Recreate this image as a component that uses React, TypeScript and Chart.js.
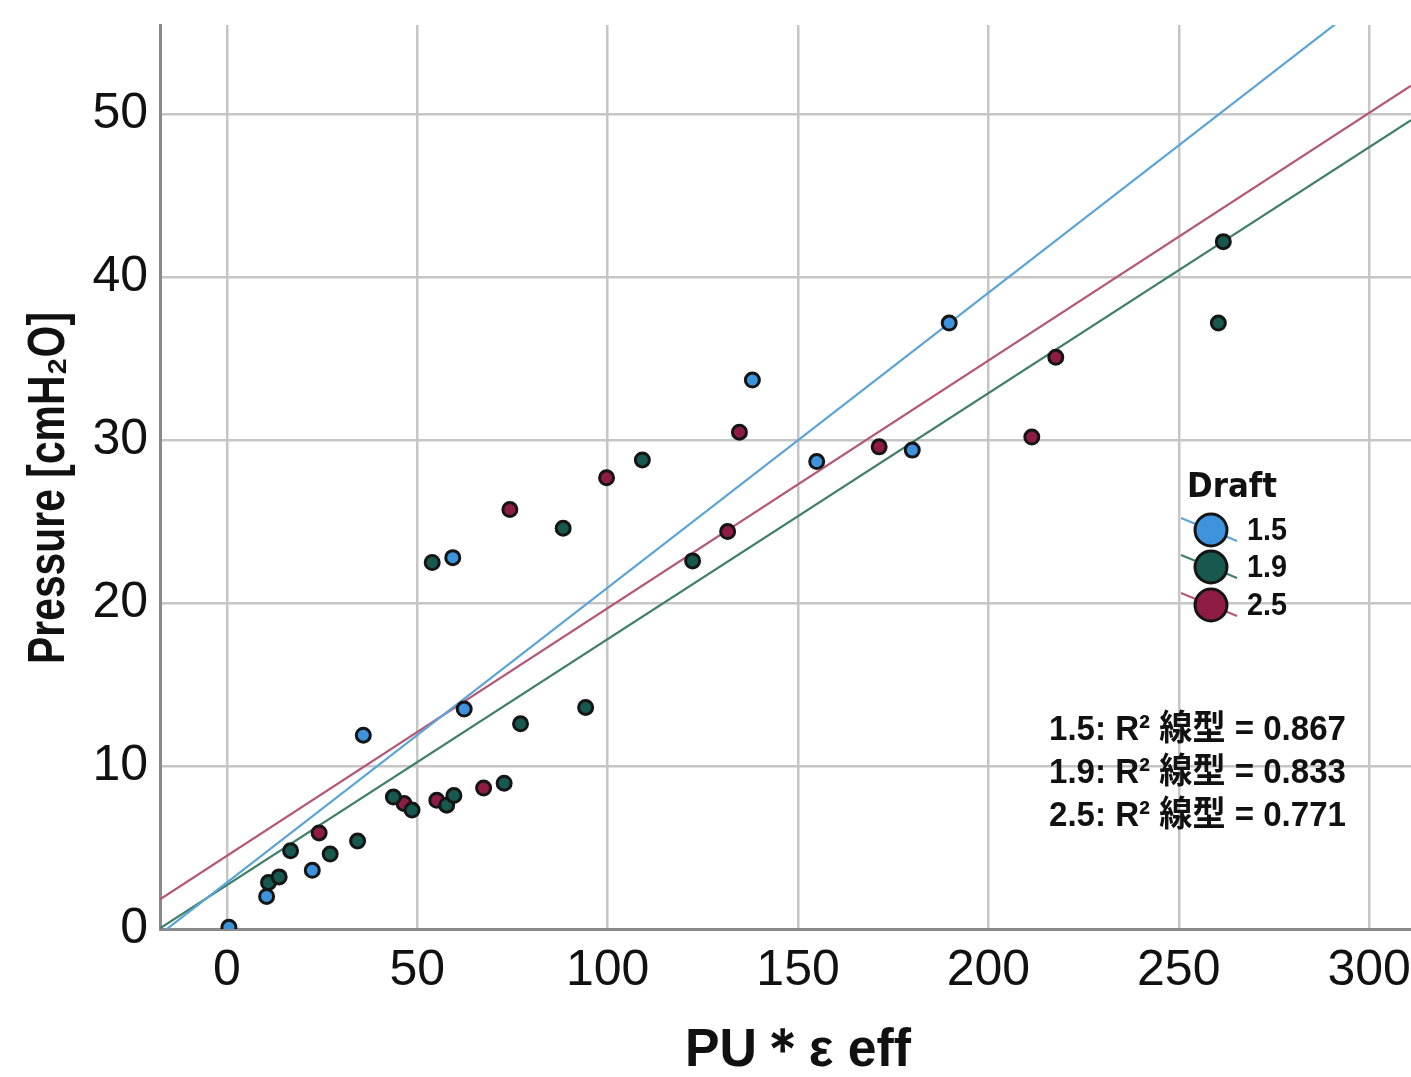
import React, { useEffect, useRef } from "react";
import { Chart, registerables } from "chart.js";

Chart.register(...registerables);

// ---------- data ----------
const draftLabels = ["1.5", "1.9", "2.5"];

const blueX = [0.5, 10.4, 22.4, 35.8, 59.3, 62.3, 138.0, 154.9, 180.0, 189.7];
const blueY = [0.1, 2.0, 3.6, 11.9, 22.8, 13.5, 33.7, 28.7, 29.4, 37.2];

const greenX = [10.9, 13.7, 16.7, 27.1, 34.3, 43.7, 48.6, 57.7, 59.6, 72.8, 77.1, 94.2, 53.9, 88.3, 109.1, 122.3, 261.7, 260.4];
const greenY = [2.85, 3.2, 4.8, 4.6, 5.4, 8.1, 7.3, 7.6, 8.2, 8.95, 12.6, 13.6, 22.5, 24.6, 28.8, 22.6, 42.2, 37.2];

const redX = [24.2, 46.5, 55.1, 67.4, 74.3, 99.7, 131.5, 134.6, 171.3, 211.4, 217.7];
const redY = [5.9, 7.7, 7.9, 8.65, 25.75, 27.7, 24.4, 30.5, 29.6, 30.2, 35.1];

const fitSlope = [0.181, 0.151, 0.152];
const fitIntercept = [2.86, 2.7, 4.5];
const r2Values = ["0.867", "0.833", "0.771"];

const xTicks = [0, 50, 100, 150, 200, 250, 300];
const yTicks = [0, 10, 20, 30, 40, 50];

const xTitle = "PU＊ε eff";
const yTitle = "Pressure [cmH₂O]";
const legendTitle = "Draft";

// ---------- styles ----------
const X_MIN = -17.6;
const X_MAX = 311;
const Y_MIN = 0;
const Y_MAX = 55.5;

const fillColors = ["#3d93dc", "#17594e", "#8f1c45"];
const lineColors = ["#5ba4d8", "#3f7f68", "#b65676"];
const markBorder = "#151515";
const NARROW = "'Liberation Sans Narrow', 'Liberation Sans', Arial, sans-serif";

const seriesX = [blueX, greenX, redX];
const seriesY = [blueY, greenY, redY];

const zeroPadding = (s: any) => {
  s.paddingTop = 0;
  s.paddingBottom = 0;
  s.paddingLeft = 0;
  s.paddingRight = 0;
};

const overlayPlugin = {
  id: "overlay",
  afterDraw(chart: any) {
    const ctx: CanvasRenderingContext2D = chart.ctx;
    ctx.save();
    ctx.fillStyle = "#111";

    // y title
    ctx.save();
    ctx.translate(50, 488);
    ctx.rotate(-Math.PI / 2);
    ctx.font = `bold 52px ${NARROW}`;
    ctx.textAlign = "center";
    ctx.textBaseline = "middle";
    ctx.fillText(yTitle, 0, 0, 352);
    ctx.restore();

    // x title
    ctx.font = `bold 54px ${NARROW}`;
    ctx.textAlign = "center";
    ctx.textBaseline = "middle";
    ctx.fillText(xTitle, 798, 1051, 226);

    // legend
    ctx.font = "bold 34px 'DejaVu Sans', sans-serif";
    ctx.textAlign = "left";
    ctx.textBaseline = "alphabetic";
    ctx.fillText(legendTitle, 1187, 497, 90);
    const cys = [530, 567, 605];
    draftLabels.forEach((lab, i) => {
      const cx = 1211;
      const cy = cys[i];
      ctx.strokeStyle = lineColors[i];
      ctx.lineWidth = 2;
      ctx.beginPath();
      ctx.moveTo(cx - 30, cy - 12);
      ctx.lineTo(cx + 26, cy + 11);
      ctx.stroke();
    });
    draftLabels.forEach((lab, i) => {
      const cx = 1211;
      const cy = cys[i];
      ctx.beginPath();
      ctx.arc(cx, cy, 16, 0, Math.PI * 2);
      ctx.fillStyle = fillColors[i];
      ctx.fill();
      ctx.lineWidth = 3;
      ctx.strokeStyle = markBorder;
      ctx.stroke();
      ctx.fillStyle = "#111";
      ctx.font = `bold 32px ${NARROW}`;
      ctx.textAlign = "left";
      ctx.textBaseline = "middle";
      ctx.fillText(lab, 1247, cy + 1, 40);
    });

    // R² annotations
    const ays = [730, 773, 816];
    ctx.font = "bold 35px 'Liberation Sans', 'Noto Sans CJK JP', sans-serif";
    ctx.textAlign = "left";
    ctx.textBaseline = "middle";
    draftLabels.forEach((lab, i) => {
      ctx.fillText(`${lab}: R² 線型 = ${r2Values[i]}`, 1049, ays[i], 297);
    });
    ctx.restore();
  },
};

export default function App() {
  const ref = useRef<HTMLCanvasElement | null>(null);

  useEffect(() => {
    if (!ref.current) return;
    const datasets: any[] = [];
    draftLabels.forEach((lab, i) => {
      datasets.push({
        type: "line",
        label: `fit ${lab}`,
        data: [
          { x: X_MIN, y: fitIntercept[i] + fitSlope[i] * X_MIN },
          { x: X_MAX, y: fitIntercept[i] + fitSlope[i] * X_MAX },
        ],
        borderColor: lineColors[i],
        borderWidth: 2.2,
        pointRadius: 0,
        fill: false,
        order: 2,
      });
    });
    draftLabels.forEach((lab, i) => {
      datasets.push({
        type: "scatter",
        label: lab,
        data: seriesX[i].map((x, k) => ({ x, y: seriesY[i][k] })),
        backgroundColor: fillColors[i],
        borderColor: markBorder,
        borderWidth: 3,
        pointRadius: 7,
        order: 1,
      });
    });

    const chart = new Chart(ref.current, {
      type: "scatter",
      data: { datasets },
      options: {
        animation: false,
        responsive: false,
        layout: { autoPadding: false, padding: { top: 25, left: 0, right: 0, bottom: 0 } },
        plugins: { legend: { display: false }, tooltip: { enabled: false } },
        scales: {
          x: {
            type: "linear",
            min: X_MIN,
            max: X_MAX,
            afterBuildTicks: (s: any) => {
              s.ticks = xTicks.map((v) => ({ value: v }));
            },
            afterFit: (s: any) => {
              s.height = 148;
              zeroPadding(s);
            },
            ticks: {
              color: "#111",
              padding: 12,
              maxRotation: 0,
              autoSkip: false,
              font: { family: NARROW, size: 50 },
              callback: (v: any) => String(v),
            },
            grid: { color: "#c6c6c6", lineWidth: 2.5, drawTicks: false },
            border: { color: "#8a8a8a", width: 3 },
          },
          y: {
            type: "linear",
            min: Y_MIN,
            max: Y_MAX,
            afterBuildTicks: (s: any) => {
              s.ticks = yTicks.map((v) => ({ value: v }));
            },
            afterFit: (s: any) => {
              s.width = 160;
              zeroPadding(s);
            },
            ticks: {
              color: "#111",
              padding: 12,
              autoSkip: false,
              font: { family: NARROW, size: 50 },
              callback: (v: any) => String(v),
            },
            grid: { color: "#c6c6c6", lineWidth: 2.5, drawTicks: false },
            border: { color: "#8a8a8a", width: 3 },
          },
        },
      },
      plugins: [overlayPlugin],
    } as any);
    return () => chart.destroy();
  }, []);

  return (
    <div style={{ position: "absolute", left: 0, top: 0, width: 1411, height: 1077, background: "#fff" }}>
      <canvas ref={ref} width={1411} height={1077} />
    </div>
  );
}
